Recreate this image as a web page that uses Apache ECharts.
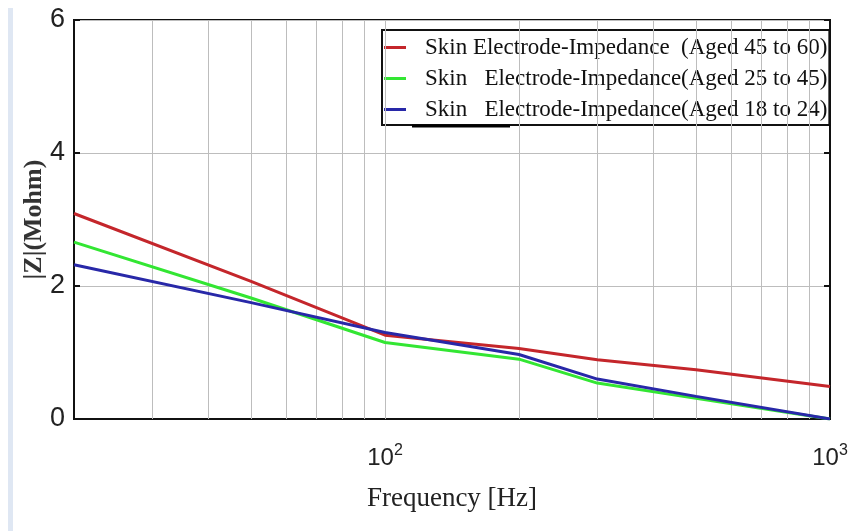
<!DOCTYPE html>
<html>
<head>
<meta charset="utf-8">
<script src="https://cdn.jsdelivr.net/npm/echarts@6/dist/echarts.min.js"></script>
<style>html,body{margin:0;padding:0;background:#fff;}#c{width:854px;height:531px;}</style>
</head>
<body>
<div id="c"></div>
<script>
const freq = [20, 50, 100, 200, 300, 500, 1000];
const red = [3.09, 2.07, 1.26, 1.06, 0.89, 0.74, 0.49];
const green = [2.66, 1.82, 1.15, 0.90, 0.54, 0.31, 0.0];
const blue = [2.32, 1.75, 1.30, 0.97, 0.60, 0.34, 0.0];
const names = [
  'Skin Electrode-Impedance  (Aged 45 to 60)',
  'Skin   Electrode-Impedance(Aged 25 to 45)',
  'Skin   Electrode-Impedance(Aged 18 to 24)'
];
const gridFreqs = [30, 40, 50, 60, 70, 80, 90, 100, 200, 300, 400, 500, 600, 700, 800, 900];
const yTicks = [0, 2, 4, 6];

const chart = echarts.init(document.getElementById('c'), null, {renderer: 'canvas'});
const pair = (ys) => freq.map((f, i) => [f, ys[i]]);
const lineSeries = (name, ys, color) => ({
  name: name, type: 'line', data: pair(ys), showSymbol: false, symbol: 'none',
  lineStyle: {color: color, width: 3}, itemStyle: {color: color}, z: 5
});
chart.setOption({
  animation: false,
  graphic: [
    {type: 'rect', shape: {x: 8, y: 8, width: 5, height: 523}, style: {fill: '#dfe7f3'}},
    {type: 'line', shape: {x1: 412, y1: 126, x2: 510, y2: 126}, style: {stroke: '#000', lineWidth: 3}, z: 100}
  ],
  grid: {left: 74, right: 24, top: 20, bottom: 112, show: true, borderColor: '#111', borderWidth: 2},
  legend: {
    data: names, orient: 'vertical', left: 382, top: 30,
    backgroundColor: '#fff', borderColor: '#111', borderWidth: 2,
    padding: [6, 2, 4, 2], itemGap: 8, itemWidth: 22, itemHeight: 3, icon: 'rect',
    textStyle: {fontFamily: 'Liberation Serif', fontSize: 23, color: '#111', padding: [0, 0, 0, 14]}
  },
  xAxis: {
    type: 'log', logBase: 10, min: 20, max: 1000,
    name: 'Frequency [Hz]', nameLocation: 'middle', nameGap: 66,
    nameTextStyle: {fontFamily: 'Liberation Serif', fontSize: 27, color: '#222'},
    axisLine: {show: true, lineStyle: {color: '#111', width: 2}},
    axisTick: {show: false},
    splitLine: {show: false},
    axisLabel: {
      margin: 24, showMinLabel: false,
      formatter: (v) => (Math.abs(v - 100) < 1e-6 ? '{b|10}{s|2}' : (Math.abs(v - 1000) < 1e-6 ? '{b|10}{s|3}' : '')),
      rich: {
        b: {fontFamily: 'Liberation Sans', fontSize: 24, color: '#222'},
        s: {fontFamily: 'Liberation Sans', fontSize: 16, color: '#222', verticalAlign: 'top', padding: [0, 0, 14, 0]}
      }
    }
  },
  yAxis: [{
    type: 'value', min: 0, max: 6, interval: 2,
    name: '|Z|(Mohm)', nameLocation: 'middle', nameGap: 27, nameMoveOverlap: false,
    nameTextStyle: {fontFamily: 'Liberation Serif', fontSize: 26, fontWeight: 'bold', color: '#333'},
    axisLine: {show: true, lineStyle: {color: '#111', width: 2}},
    axisTick: {show: true, inside: true, length: 6, lineStyle: {color: '#111', width: 2}},
    splitLine: {show: true, lineStyle: {color: '#bdbdbd', width: 1}},
    axisLabel: {fontFamily: 'Liberation Sans', fontSize: 27, color: '#222', margin: 9,
      formatter: (v) => (yTicks.indexOf(v) >= 0 ? String(v) : '')}
  }, {
    type: 'value', min: 0, max: 6, interval: 2, position: 'right',
    axisLine: {show: true, lineStyle: {color: '#111', width: 2}},
    axisTick: {show: true, inside: true, length: 6, lineStyle: {color: '#111', width: 2}},
    axisLabel: {show: false}, splitLine: {show: false}
  }],
  series: [
    {
      type: 'line', data: [], z: 1, silent: true,
      markLine: {
        silent: true, symbol: 'none', label: {show: false}, animation: false,
        lineStyle: {color: '#bdbdbd', width: 1, type: 'solid'},
        data: gridFreqs.map((f) => ({xAxis: f}))
      }
    },
    lineSeries(names[0], red, '#c4262b'),
    lineSeries(names[1], green, '#33e633'),
    lineSeries(names[2], blue, '#2828a8')
  ]
});
</script>
</body>
</html>
